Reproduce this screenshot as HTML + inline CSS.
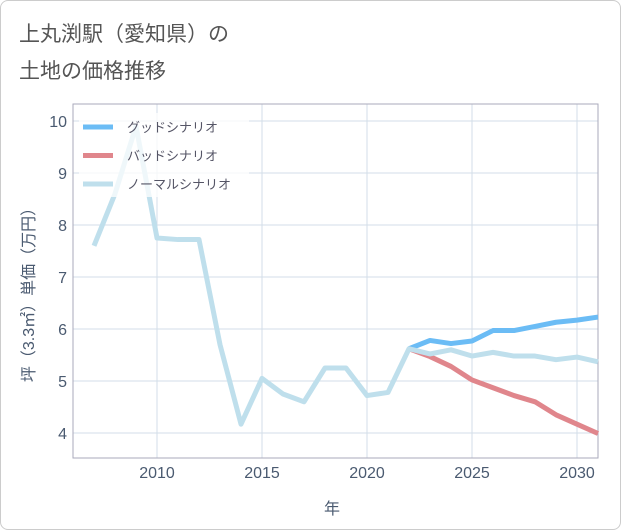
<!DOCTYPE html>
<html><head><meta charset="utf-8"><style>
body{margin:0;background:#fff;font-family:"Liberation Sans","Noto Sans CJK JP",sans-serif;}
#wrap{width:619px;height:528px;border:1px solid #ccc;border-radius:8px;position:relative;overflow:hidden;background:#fff}
</style></head><body>
<div id="wrap">
<svg width="621" height="530">
<text x="18" y="40" font-size="21" fill="#555">上丸渕駅（愛知県）の</text>
<text x="18" y="77" font-size="21" fill="#555">土地の価格推移</text>
<g id="grid"></g>
<rect x="72" y="103" width="525" height="354" fill="none" stroke="#aab"/>
<g id="lines"></g>
<g id="legend"></g>
<text x="331" y="513" font-size="16" fill="#4a5a70" text-anchor="middle">年</text>
<text transform="translate(33,290) rotate(-90)" font-size="16" fill="#4a5a70" text-anchor="middle">坪（3.3㎡）単価（万円）</text>
</svg></div>
<script>
const years=[2007,2008,2009,2010,2011,2012,2013,2014,2015,2016,2017,2018,2019,2020,2021,2022,2023,2024,2025,2026,2027,2028,2029,2030,2031];
const normal=[7.6,8.6,9.9,7.75,7.72,7.72,5.7,4.17,5.05,4.75,4.6,5.25,5.25,4.72,4.78,5.62,5.52,5.6,5.48,5.55,5.48,5.48,5.41,5.46,5.37];
const fYears=[2022,2023,2024,2025,2026,2027,2028,2029,2030,2031];
const good=[5.62,5.78,5.72,5.77,5.97,5.97,6.05,6.13,6.17,6.23];
const bad=[5.62,5.47,5.28,5.02,4.87,4.72,4.6,4.35,4.17,3.99];
const yTicks=[4,5,6,7,8,9,10];
const xTicks=[2010,2015,2020,2025,2030];
const NS='http://www.w3.org/2000/svg';
const X=v=>72+(v-2006)*(525/25);
const Y=v=>432-(v-4)*52;
function mk(t,a,p){const e=document.createElementNS(NS,t);for(const k in a)e.setAttribute(k,a[k]);p.appendChild(e);return e;}
const grid=document.getElementById('grid');
yTicks.forEach(v=>{
 const l=mk('line',{x1:72,x2:597,y1:Y(v),y2:Y(v),stroke:'#d3dde8'},grid);
 
 
 const t=mk('text',{x:66,y:Y(v)+6,'font-size':16,fill:'#4a5a70','text-anchor':'end'},grid);t.textContent=v;
 
 
});
xTicks.forEach(v=>{
 const l=mk('line',{x1:X(v),x2:X(v),y1:103,y2:457,stroke:'#d3dde8'},grid);
 
 
 const t=mk('text',{x:X(v),y:477,'font-size':16,fill:'#4a5a70','text-anchor':'middle'},grid);t.textContent=v;
 
 
});
const lines=document.getElementById('lines');
function path(xs,ys,c,n){const p=mk('polyline',{points:xs.map((x,i)=>X(x)+','+Y(ys[i])).join(' '),fill:'none',stroke:c,'stroke-width':5,'stroke-linejoin':'round'},lines);
 
 }
path(fYears,good,'#6bbcf5','good-scenario-line');
path(fYears,bad,'#e0868c','bad-scenario-line');
path(years,normal,'#bfdfec','normal-scenario-line');
const lg=document.getElementById('legend');
mk('rect',{x:78,y:112,width:170,height:84,fill:'#fff','fill-opacity':0.75},lg);
[['グッドシナリオ','#6bbcf5'],['バッドシナリオ','#e0868c'],['ノーマルシナリオ','#bfdfec']].forEach((d,i)=>{
 const y=126+i*28.5;
 const l=mk('line',{x1:82,x2:112,y1:y,y2:y,stroke:d[1],'stroke-width':5},lg);
 
 
 const t=mk('text',{x:126,y:y+5,'font-size':13,fill:'#556'},lg);t.textContent=d[0];
 
 
});
</script></body></html>
